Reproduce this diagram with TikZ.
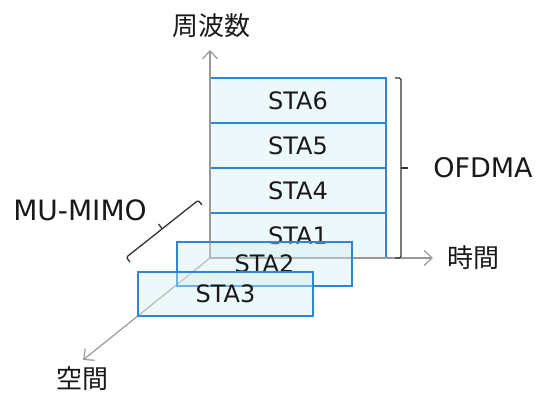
\documentclass[tikz,border=0pt]{standalone}
\usepackage{fontspec}
\setmainfont{DejaVu Sans}
\newfontfamily\cjk{Noto Sans CJK JP}
\usetikzlibrary{positioning,arrows.meta}
\definecolor{staline}{RGB}{45,135,215}
\definecolor{stafill}{RGB}{210,238,242}

\begin{document}
\begin{tikzpicture}
	[
		x=1pt, y=1pt,
		sta/.style = {shape=rectangle, draw=staline, line width=1.3pt, fill=stafill, fill opacity=0.4, text opacity=1, text=black!90, minimum width=176pt, minimum height=45pt, outer sep=0pt, inner sep=0pt, font=\fontsize{24}{28}\selectfont},
		axisline/.style = {draw=black!40, line width=1.2pt, -{Straight Barb[length=8pt,width=15pt]}},
		bracket/.style = {draw=black!80, line width=1.3pt, rounded corners=1.5pt},
		axislabel/.style = {text=black!90, font=\fontsize{26}{30}\selectfont\cjk},
		bigtext/.style = {text=black!90, font=\fontsize{#1}{32}\selectfont}
	]
	
	\useasboundingbox (0,0) rectangle (537,392);
	
	\node [sta] (sta1) at (298,156.5) {STA1};
	\node [sta, above=0pt of sta1] (sta4) {STA4};
	\node [sta, above=0pt of sta4] (sta5) {STA5};
	\node [sta, above=0pt of sta5] (sta6) {STA6};
	
	\coordinate (o) at (sta1.south west);
	\coordinate (freq) at (210,342);
	\coordinate (time) at (433,134);
	\coordinate (space) at (83,32);
	
	\draw [axisline] (o) -- (freq);
	\draw [axisline] (o) -- (time);
	\draw [axisline] (o) -- (space);
	
	\node [sta, minimum width=175pt, minimum height=44pt] (sta2) at (264.5,128) {STA2};
	\node [sta, minimum width=175pt, minimum height=44pt] (sta3) at (225.5,98) {STA3};
	
	\node [axislabel] (freqlabel) at (211,366) {周波数};
	\node [axislabel] (timelabel) at (473,134.5) {時間};
	\node [axislabel] (spacelabel) at (82,13) {空間};
	
	% OFDMA
	\draw [bracket] ([xshift=9pt]sta6.north east) -- ++(6,0) -- ([xshift=15pt]sta1.south east) -- ++(-6,0);
	\draw [bracket] ([xshift=15pt]sta4.north east) -- ++(7,0);
	\node [bigtext=27] (ofdma) at (483,224) {OFDMA};
	
	% MU-MIMO
	\begin{scope}[shift={(130,130)}, rotate=38.4]
		\draw [bracket] (0,0) -- (0,6) -- (91.8,6) -- (91.8,0);
		\draw [bracket] (45.9,6) -- (45.9,12);
	\end{scope}
	\node [bigtext=28] (mumimo) at (80,182) {MU-MIMO};
	
\end{tikzpicture}
\end{document}
